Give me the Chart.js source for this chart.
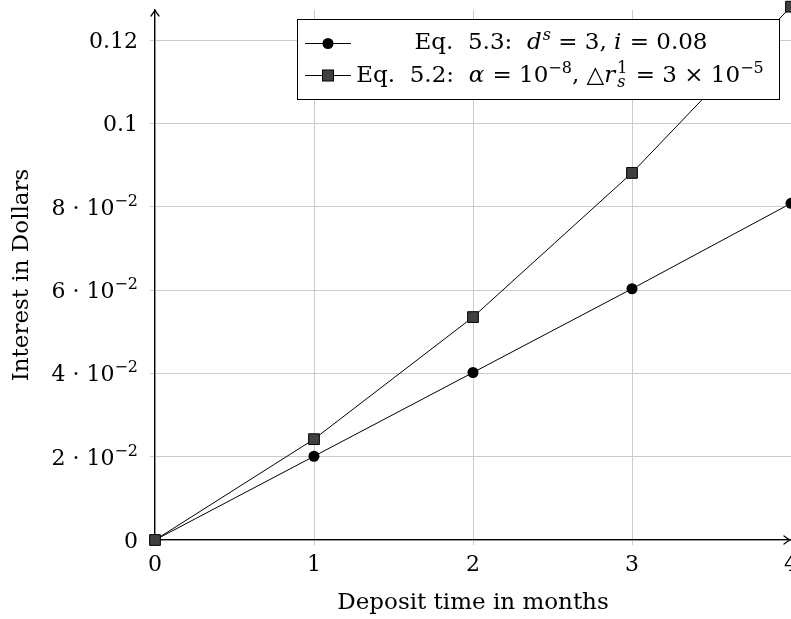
<!DOCTYPE html>
<html>
<head>
<meta charset="utf-8">
<script src="https://cdn.jsdelivr.net/npm/chart.js@4/dist/chart.umd.min.js"></script>
<style>
  body { margin: 0; background: #fff; }
  #wrap { width: 791px; height: 619px; position: relative; }
</style>
</head>
<body>
<div id="wrap"><canvas id="chart"></canvas></div>
<script>
// data
const months = [0, 1, 2, 3, 4];
const eq53 = [0, 0.0201, 0.0402, 0.0603, 0.0808];
const eq52 = [0, 0.0242, 0.0535, 0.0881, 0.128];

const xTicks = [0, 1, 2, 3, 4];
const yTicks = [0, 0.02, 0.04, 0.06, 0.08, 0.1, 0.12];
// '^' marks the exponent
const yTickLabels = ['0', '2 · 10^−2', '4 · 10^−2', '6 · 10^−2', '8 · 10^−2', '0.1', '0.12'];

const xTitle = 'Deposit time in months';
const yTitle = 'Interest in Dollars';

// legend text, split in pieces for italics / super / subscripts
const legend53 = [['Eq.  5.3:  ', 'n'], ['d', 'i'], ['s', 'isup'], [' = 3, ', 'n'], ['i', 'i'], [' = 0.08', 'n']];
const legend52 = [['Eq.  5.2:  ', 'n'], ['α', 'i'], [' = 10', 'n'], ['−8', 'sup'], [', △', 'n'], ['r', 'i'], ['1|s', 'stack'], [' = 3 × 10', 'n'], ['−5', 'sup']];

const FONT = "'DejaVu Serif', 'Liberation Serif', serif";
const FS = 22;   // tick labels
const FT = 23;   // titles and legend

function fontFor(kind, size) {
  size = size || FT;
  if (kind === 'i') return 'italic ' + size + 'px ' + FONT;
  if (kind === 'isup' || kind === 'stack') return 'italic 16px ' + FONT;
  if (kind === 'sup') return '16px ' + FONT;
  return size + 'px ' + FONT;
}

function pieceWidth(ctx, p, size) {
  ctx.font = fontFor(p[1], size);
  if (p[1] === 'stack') {
    const [a, b] = p[0].split('|');
    return Math.max(ctx.measureText(a).width, ctx.measureText(b).width) + 2;
  }
  return ctx.measureText(p[0]).width + (p[1] === 'i' ? 1 : 0);
}

// align: 'center' or 'right'
function drawRich(ctx, pieces, ax, baseline, align, size) {
  let total = 0;
  pieces.forEach(p => total += pieceWidth(ctx, p, size));
  let x = align === 'right' ? ax - total : ax - total / 2;
  ctx.fillStyle = '#000';
  ctx.textBaseline = 'alphabetic';
  ctx.textAlign = 'left';
  pieces.forEach(p => {
    const w = pieceWidth(ctx, p, size);
    ctx.font = fontFor(p[1], size);
    if (p[1] === 'stack') {
      const [a, b] = p[0].split('|');
      ctx.font = '16px ' + FONT;
      ctx.fillText(a, x + 1, baseline - 9);
      ctx.font = 'italic 16px ' + FONT;
      ctx.fillText(b, x + 1, baseline + 5);
    } else if (p[1] === 'sup' || p[1] === 'isup') {
      ctx.fillText(p[0], x, baseline - 9);
    } else {
      ctx.fillText(p[0], x, baseline);
    }
    x += w;
  });
}

const legendBox = {
  id: 'legendBox',
  afterDatasetsDraw(chart) {
    const ctx = chart.ctx;
    ctx.save();
    ctx.fillStyle = '#fff';
    ctx.strokeStyle = '#000';
    ctx.lineWidth = 1;
    ctx.fillRect(297, 19, 482, 80);
    ctx.strokeRect(297.5, 19.5, 482, 80);

    // markers
    ctx.beginPath();
    ctx.moveTo(305, 43.5); ctx.lineTo(351, 43.5);
    ctx.moveTo(305, 75.5); ctx.lineTo(351, 75.5);
    ctx.stroke();
    ctx.fillStyle = '#000';
    ctx.beginPath();
    ctx.arc(328, 43.5, 5.5, 0, Math.PI * 2);
    ctx.fill();
    ctx.fillStyle = '#404040';
    ctx.fillRect(322.5, 70, 11, 11);
    ctx.strokeRect(322.5, 70, 11, 11);

    drawRich(ctx, legend53, 561, 49, 'center');
    drawRich(ctx, legend52, 560, 82, 'center');
    ctx.restore();
  }
};

// y tick labels with real exponents, placed by the y scale
const yLabels = {
  id: 'yLabels',
  afterDraw(chart) {
    const ctx = chart.ctx;
    const ys = chart.scales.y;
    const right = ys.right - 17;
    ctx.save();
    yTicks.forEach((v, i) => {
      const [base, exp] = yTickLabels[i].split('^');
      const pieces = [[base, 'n']];
      if (exp) pieces.push([exp, 'sup']);
      drawRich(ctx, pieces, right, ys.getPixelForValue(v) + 8, 'right', FS);
    });
    ctx.restore();
  }
};

const axisArrows = {
  id: 'axisArrows',
  afterDraw(chart) {
    const ctx = chart.ctx;
    const a = chart.chartArea;
    const x0 = chart.scales.x.getPixelForValue(0);
    const y0 = chart.scales.y.getPixelForValue(0);
    ctx.save();
    ctx.strokeStyle = '#000';
    ctx.lineWidth = 1.3;
    ctx.lineJoin = 'round';
    ctx.lineCap = 'round';
    // up arrow
    ctx.beginPath();
    ctx.moveTo(x0 - 4, a.top + 6);
    ctx.quadraticCurveTo(x0 - 1, a.top + 2, x0, a.top);
    ctx.quadraticCurveTo(x0 + 1, a.top + 2, x0 + 4, a.top + 6);
    ctx.stroke();
    // right arrow
    const xr = a.right - 1;
    ctx.beginPath();
    ctx.moveTo(xr - 6, y0 - 4);
    ctx.quadraticCurveTo(xr - 2, y0 - 1, xr, y0);
    ctx.quadraticCurveTo(xr - 2, y0 + 1, xr - 6, y0 + 4);
    ctx.stroke();
    ctx.restore();
  }
};

const gridColor = '#cccccc';

new Chart(document.getElementById('chart'), {
  type: 'line',
  data: {
    datasets: [
      {
        label: 'Eq. 5.3',
        data: months.map((m, i) => ({ x: m, y: eq53[i] })),
        borderColor: '#000',
        borderWidth: 1,
        pointStyle: 'circle',
        pointRadius: 5.5,
        pointBackgroundColor: '#000',
        pointBorderColor: '#000',
        pointBorderWidth: 0,
        tension: 0,
        clip: false,
        order: 1
      },
      {
        label: 'Eq. 5.2',
        data: months.map((m, i) => ({ x: m, y: eq52[i] })),
        borderColor: '#000',
        borderWidth: 1,
        pointStyle: 'rect',
        pointRadius: 7.6,
        pointBackgroundColor: '#404040',
        pointBorderColor: '#000',
        pointBorderWidth: 1,
        tension: 0,
        clip: false,
        order: 0
      }
    ]
  },
  options: {
    responsive: true,
    maintainAspectRatio: false,
    animation: false,
    layout: { autoPadding: false, padding: { top: 10, right: 0, left: 0, bottom: 0 } },
    plugins: {
      legend: { display: false },
      tooltip: { enabled: false }
    },
    scales: {
      x: {
        type: 'linear',
        min: 0,
        max: 4,
        afterBuildTicks: s => { s.ticks = xTicks.map(v => ({ value: v })); },
        afterFit: s => { s.height = 79; s.paddingLeft = 0; s.paddingRight = 0; },
        grid: { color: gridColor, tickColor: gridColor, tickLength: 5, lineWidth: 1 },
        border: { color: '#000', width: 1.3 },
        ticks: { color: '#000', font: { family: FONT, size: FS }, padding: 7, maxRotation: 0 },
        title: { display: true, text: xTitle, color: '#000', font: { family: FONT, size: FT }, padding: { top: 0, bottom: 2 } }
      },
      y: {
        type: 'linear',
        min: 0,
        max: 0.1272,
        afterBuildTicks: s => { s.ticks = yTicks.map(v => ({ value: v })); },
        afterFit: s => { s.width = 155; s.paddingTop = 0; s.paddingBottom = 0; },
        grid: { color: gridColor, tickColor: gridColor, tickLength: 5, lineWidth: 1 },
        border: { color: '#000', width: 1.3 },
        ticks: { display: false },
        title: { display: true, text: yTitle, color: '#000', font: { family: FONT, size: FT }, padding: { top: 8, bottom: 0 } }
      }
    }
  },
  plugins: [legendBox, yLabels, axisArrows]
});
</script>
</body>
</html>
